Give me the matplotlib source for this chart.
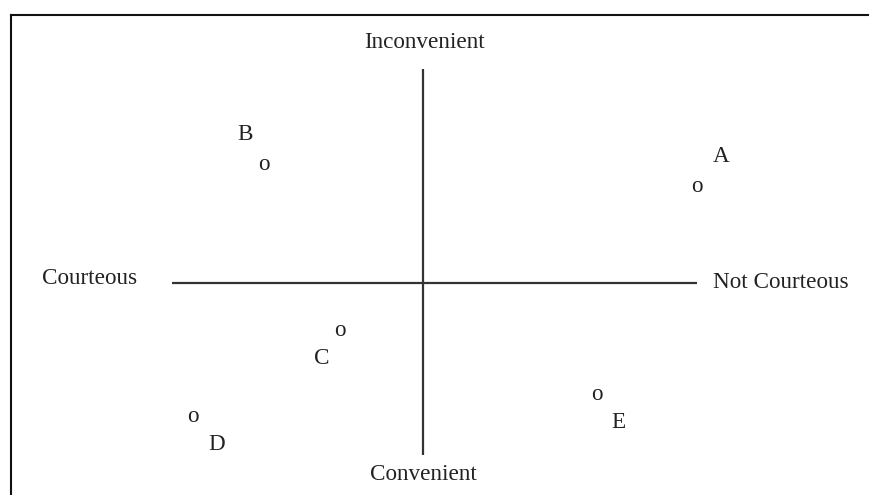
import matplotlib
matplotlib.use("Agg")
import matplotlib.pyplot as plt
from matplotlib.lines import Line2D

# Perceptual map data (units: arbitrary map coordinates, origin at axis crossing)
labels = ["A", "B", "C", "D", "E"]
x_vals = [10.96, -6.36, -3.32, -9.2, 6.96]
y_vals = [3.84, 4.72, -1.92, -5.36, -4.48]

axis_titles = ["Inconvenient", "Convenient", "Courteous", "Not Courteous"]
x_axis_extent = [-10.04, 10.96]
y_axis_extent = [-6.88, 8.56]

# label offsets in pixels relative to each point marker
label_offsets = {"A": (24, 31), "B": (-19, 30), "C": (-18, -27), "D": (24, -28), "E": (21, -28)}

FONT = ["Liberation Serif", "DejaVu Serif"]
TXT = "#222222"
LINE = "#333333"
FS = 16.7

fig = plt.figure(figsize=(8.7, 4.95), dpi=100)
ax = fig.add_axes([0, 0, 1, 1])
ax.set_xlim(-16.92, 17.88)
ax.set_ylim(-8.48, 11.32)
ax.axis("off")

# axes of the map
ax.plot(x_axis_extent, [0, 0], color=LINE, lw=1.6, solid_capstyle="butt")
ax.plot([0, 0], y_axis_extent, color=LINE, lw=1.6, solid_capstyle="butt")

# axis titles
ax.text(0.08, 9.64, axis_titles[0], ha="center", va="center", fontsize=FS, family=FONT, color=TXT)
ax.text(0.0, -7.64, axis_titles[1], ha="center", va="center", fontsize=FS, family=FONT, color=TXT)
ax.text(-11.44, 0.16, axis_titles[2], ha="right", va="center", fontsize=FS, family=FONT, color=TXT)
ax.text(11.6, 0.0, axis_titles[3], ha="left", va="center", fontsize=FS, family=FONT, color=TXT)

# points drawn as "o" glyphs with letter labels
for lab, xv, yv in zip(labels, x_vals, y_vals):
    ax.text(xv, yv, "o", ha="center", va="center", fontsize=FS, family=FONT, color=TXT)
    dx, dy = label_offsets[lab]
    ax.annotate(lab, (xv, yv), xytext=(dx, dy), textcoords="offset pixels",
                ha="center", va="center", fontsize=FS, family=FONT, color=TXT)

# frame (left and top edges visible)
W, H = 870.0, 495.0
fig.add_artist(Line2D([11 / W, 11 / W], [-0.01, 1 - 15 / H], color="#111111", lw=1.5,
                      transform=fig.transFigure))
fig.add_artist(Line2D([11 / W, 1.01], [1 - 15 / H, 1 - 15 / H], color="#111111", lw=1.5,
                      transform=fig.transFigure))

fig.savefig("out.png", dpi=100, facecolor="white")
